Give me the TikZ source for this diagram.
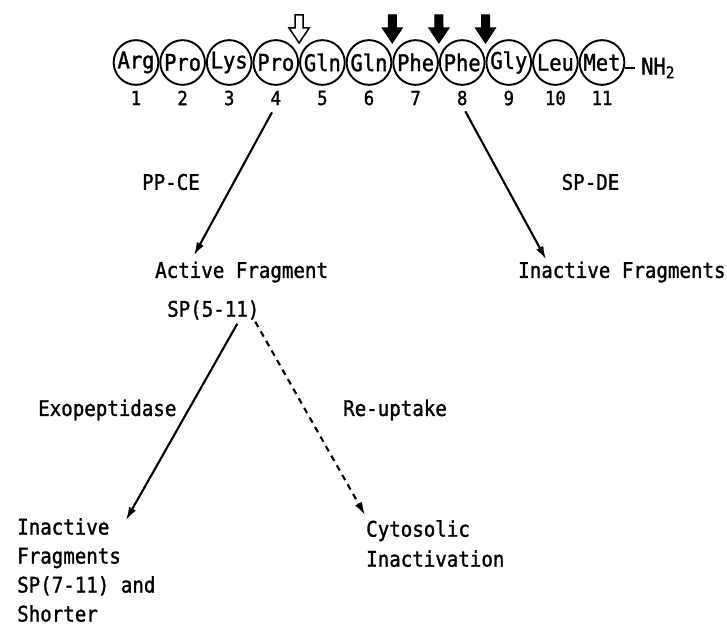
\documentclass[tikz,border=0pt]{standalone}
\usepackage{fontspec}
\newfontfamily\plotfont[FakeStretch=0.89, FakeBold=1.3]{DejaVu Sans Mono}
\usetikzlibrary{arrows.meta,calc}
\begin{document}
\begin{tikzpicture}[x=1pt,y=-1pt,
  every node/.style={font=\plotfont\fontsize{21.5}{29.7}\selectfont, inner sep=0pt},
  res/.style={circle, draw, line width=1.9pt, minimum size=44.7pt, font=\plotfont\fontsize{23}{24}\selectfont},
  numlab/.style={font=\plotfont\fontsize{19.5}{22}\selectfont},
  lbl/.style={anchor=west},
  arr/.style={line width=2.1pt, -{Latex[length=13pt,width=8pt]}},
  dasharr/.style={arr, dash pattern=on 6pt off 5pt},
  cutarrow/.pic={\path[pic actions] (-4,-47.5) -- (4,-47.5) -- (4,-34.5) -- (10,-34.5) -- (0,-19.5) -- (-10,-34.5) -- (-4,-34.5) -- cycle;}
]
\useasboundingbox (0,0) rectangle (727,626);

% residues
\foreach \t [count=\i] in {Arg,Pro,Lys,Pro,Gln,Gln,Phe,Phe,Gly,Leu,Met} {
  \node[res] (c\i) at ({136+46.6*(\i-1)},62.5) {\t};
  \node[numlab] (n\i) at ({136+46.6*(\i-1)},98) {\i};
}
\node[anchor=west, font=\plotfont\fontsize{23}{24}\selectfont] (nh) at (641,68) {NH\textsubscript{2}};
\draw[line width=2pt] (c11.east |- nh.west) -- ([xshift=-6pt]nh.west);

% cleavage marks
\pic[draw, line width=1.5pt] at ($(c4)!0.5!(c5)$) {cutarrow};
\pic[draw, fill, line width=1pt] at ($(c6)!0.5!(c7)$) {cutarrow};
\pic[draw, fill, line width=1pt] at ($(c7)!0.5!(c8)$) {cutarrow};
\pic[draw, fill, line width=1pt] at ($(c8)!0.5!(c9)$) {cutarrow};

% labels
\node (ppce) at (171,182) {PP-CE};
\node (spde) at (590.5,182) {SP-DE};
\node[lbl] (af) at (155,272) {Active Fragment};
\node[lbl] (inf) at (518,272) {Inactive Fragments};
\node[lbl] (sp) at (167,310) {SP(5-11)};
\node[lbl] (exo) at (38,410) {Exopeptidase};
\node[lbl] (reup) at (343,410) {Re-uptake};
\node[anchor=north west, align=left, font=\plotfont\fontsize{21.5}{29}\selectfont] (short) at (17,518) {Inactive\\Fragments\\SP(7-11) and\\Shorter};
\node[anchor=north west, align=left, font=\plotfont\fontsize{21.5}{30}\selectfont] (cyto) at (366,520) {Cytosolic\\Inactivation};

% connectors
\coordinate (afin) at ($(af.north west)+(39,-6)$);
\coordinate (infin) at ($(inf.north west)+(28,-2)$);
\coordinate (spl) at ($(sp.south)+(24,4)$);
\coordinate (spr) at ($(sp.south)+(42,2)$);
\coordinate (shin) at ($(short.north west)+(109,2)$);
\coordinate (cyin) at ($(cyto.north west)+(-1,-5)$);
\draw[arr, shorten <=8pt] (n4.south) -- (afin);
\draw[arr, shorten <=6.5pt] (n8.south) -- (infin);
\draw[arr] (spl) -- (shin);
\draw[dasharr] (spr) -- (cyin);
\end{tikzpicture}
\end{document}
